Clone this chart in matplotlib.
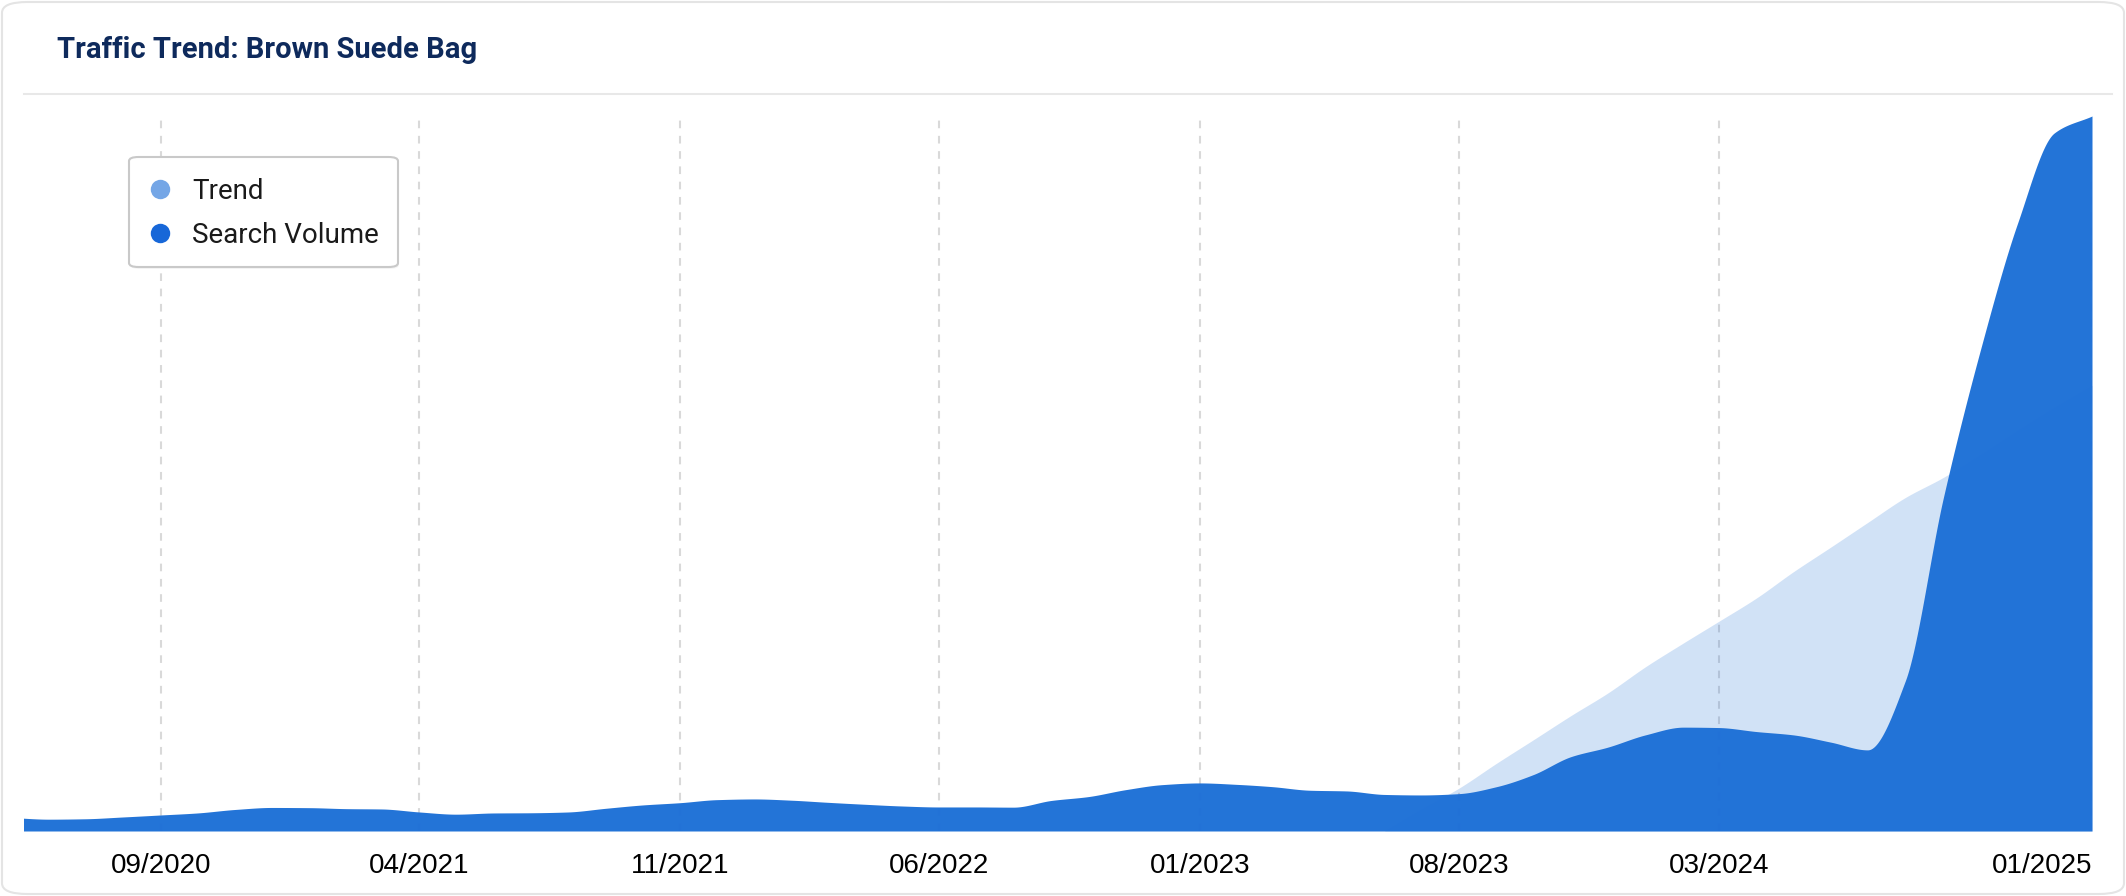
import numpy as np
import pandas as pd
import matplotlib
matplotlib.use("Agg")
import matplotlib.pyplot as plt
import matplotlib.dates as mdates
from matplotlib.patches import FancyBboxPatch
from matplotlib.lines import Line2D

# ---------------- data ----------------
months = pd.date_range("2020-05-01", "2025-01-01", freq="MS")
search_volume = [
    135, 118, 122, 140, 160, 180, 215, 235,                              # 2020
    233, 223, 220, 190, 168, 180, 182, 190, 227, 260, 283, 313,          # 2021
    320, 307, 287, 267, 250, 240, 240, 238, 305, 343, 413, 463,          # 2022
    480, 465, 443, 407, 400, 365, 360, 373, 443, 563, 743, 837,          # 2023
    960, 1037, 1033, 993, 960, 887, 810, 1500, 3320, 4780, 6070, 6970,   # 2024
    7140,                                                                # 2025
]
trend_months = pd.date_range("2023-06-01", "2025-01-01", freq="MS")
trend = [0, 217, 427, 677, 910, 1153, 1377, 1640, 1877, 2093,
         2327, 2587, 2836, 3080, 3330, 3530, 3755, 4000, 4230, 4450]

tick_dates = ["2020-09-01", "2021-04-01", "2021-11-01", "2022-06-01",
              "2023-01-01", "2023-08-01", "2024-03-01", "2025-01-01"]
tick_labels = ["09/2020", "04/2021", "11/2021", "06/2022",
               "01/2023", "08/2023", "03/2024", "01/2025"]

title = "Traffic Trend: Brown Suede Bag"
legend_labels = ["Trend", "Search Volume"]

# ---------------- helpers ----------------
W, H = 2126, 896


def fx(px):
    return px / W


def fy(py):  # py measured from top
    return 1 - py / H


def monotone(x, y, xs):
    """Monotone cubic (Fritsch-Carlson) curve through the data points, for drawing."""
    x = np.asarray(x, float)
    y = np.asarray(y, float)
    h = np.diff(x)
    d = np.diff(y) / h
    m = np.zeros_like(y)
    for k in range(1, len(y) - 1):
        if d[k - 1] * d[k] > 0:
            w1 = 2 * h[k] + h[k - 1]
            w2 = h[k] + 2 * h[k - 1]
            m[k] = (w1 + w2) / (w1 / d[k - 1] + w2 / d[k])
    m[0] = d[0]
    m[-1] = d[-1]
    idx = np.clip(np.searchsorted(x, xs) - 1, 0, len(h) - 1)
    t = (xs - x[idx]) / h[idx]
    h00 = 2 * t**3 - 3 * t**2 + 1
    h10 = t**3 - 2 * t**2 + t
    h01 = -2 * t**3 + 3 * t**2
    h11 = t**3 - t**2
    return (h00 * y[idx] + h10 * h[idx] * m[idx]
            + h01 * y[idx + 1] + h11 * h[idx] * m[idx + 1])


# ---------------- figure ----------------
plt.rcParams["lines.scale_dashes"] = False
fig = plt.figure(figsize=(W / 100, H / 100), dpi=100)
fig.patch.set_facecolor("white")

# card
card = FancyBboxPatch((fx(2), fy(894)), fx(2122), 892 / H,
                      boxstyle="round,pad=0,rounding_size=0.012",
                      transform=fig.transFigure, facecolor="white",
                      edgecolor="#e4e4e4", linewidth=1.5, zorder=0)
fig.add_artist(card)

# title + separator
fig.text(fx(57), fy(58), title, fontfamily="Roboto", fontweight="bold",
         fontsize=21, color="#0e2a5c", va="baseline", ha="left")
fig.add_artist(Line2D([fx(24), fx(2112)], [fy(94), fy(94)],
                      transform=fig.transFigure, color="#e8e8e8", lw=1.5))

# axes
ax = fig.add_axes([fx(24), fy(831), fx(2092 - 24), (831 - 116) / H])
ax.set_facecolor("none")
SV_BLUE = "#1c6fd6"

xm = mdates.date2num(months)
xs = np.linspace(xm[0], xm[-1], 2000)
ax.fill_between(xs, 0, monotone(xm, search_volume, xs), color=SV_BLUE,
                alpha=0.97, linewidth=0, zorder=3)

xt = mdates.date2num(trend_months)
xts = np.linspace(xt[0], xt[-1], 1000)
ax.fill_between(xts, 0, monotone(xt, trend, xts), color=SV_BLUE,
                alpha=0.2, linewidth=0, zorder=2)

ax.set_xlim(mdates.date2num(pd.Timestamp("2020-05-12")), xm[-1])
ax.set_ylim(0, max(search_volume))

ticks = mdates.date2num(pd.to_datetime(tick_dates))
ax.set_xticks(ticks)
ax.set_xticklabels(tick_labels, fontfamily="Liberation Sans", fontsize=20,
                   color="#000000")
ax.get_xticklabels()[-1].set_horizontalalignment("right")
ax.tick_params(axis="x", length=0, pad=16)
ax.set_yticks([])
for s in ax.spines.values():
    s.set_visible(False)

for t in ticks:
    ax.axvline(t, color="#d9d9d9", lw=1.5, linestyle=(0, (5.5, 5.5)), zorder=1)

# legend (custom box)
shadow = FancyBboxPatch((fx(130), fy(269)), fx(269), 110 / H,
                        boxstyle="round,pad=0,rounding_size=0.0045",
                        transform=fig.transFigure, facecolor="#000000",
                        alpha=0.04, edgecolor="none", zorder=8)
fig.add_artist(shadow)
lbox = FancyBboxPatch((fx(129), fy(267)), fx(269), 110 / H,
                      boxstyle="round,pad=0,rounding_size=0.0045",
                      transform=fig.transFigure, facecolor="white",
                      edgecolor="#c9c9c9", linewidth=1.5, zorder=9)
fig.add_artist(lbox)
marker_colors = ["#74a6e6", "#1767d8"]
for i, (lab, mc) in enumerate(zip(legend_labels, marker_colors)):
    cy = 189 + i * 44.3
    fig.add_artist(Line2D([fx(160)], [fy(cy)], transform=fig.transFigure,
                          marker="o", markersize=14, markerfacecolor=mc,
                          markeredgecolor="none", linestyle="none", zorder=10))
    fig.text(fx(192), fy(cy + 10), lab, fontfamily="Roboto", fontsize=20,
             color="#1a1a1a", va="baseline", ha="left", zorder=10)

fig.savefig("out.png", dpi=100, facecolor="white")
